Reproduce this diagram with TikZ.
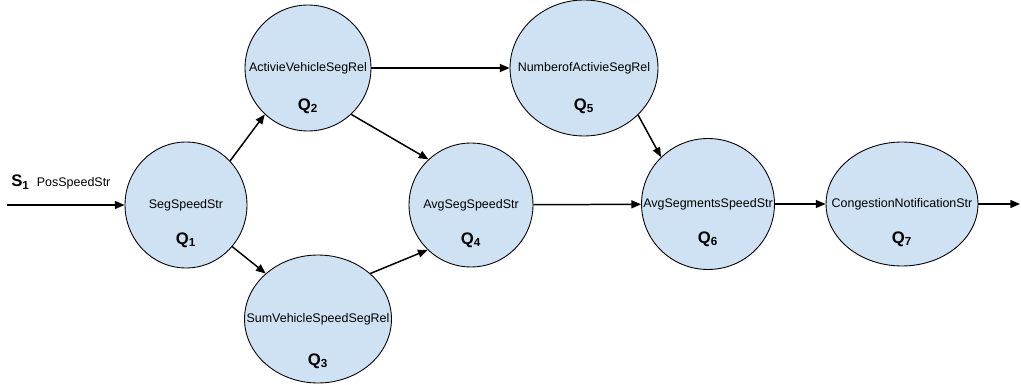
\documentclass[tikz,border=0pt]{standalone}
\usepackage{fontspec}
\setmainfont{Liberation Sans}
\usetikzlibrary{arrows.meta, positioning, shapes.geometric}
\definecolor{qfill}{HTML}{CFE2F3}
\newcommand{\qname}[1]{\makebox[0pt]{#1}}

\begin{document}
\begin{tikzpicture}[
    x=0.02cm, y=-0.02cm,
    query/.style={draw, ellipse, fill=qfill, line width=0.5pt, inner sep=0pt,
                  font=\fontsize{7.1}{8}\selectfont},
    qlab/.style={font=\fontsize{9.5}{11}\selectfont\bfseries, inner sep=0pt},
    flow/.style={-{Triangle[length=5.5pt,width=4.5pt]}, line width=0.85pt}
  ]
    \useasboundingbox (0,0) rectangle (1021,385);

    \node[query, minimum width=2.44cm, minimum height=2.52cm] (q1) at (186,205)
      {\qname{SegSpeedStr}};
    \node[query, minimum width=2.52cm, minimum height=2.52cm] (q2) at (308,68)
      {\qname{ActivieVehicleSegRel}};
    \node[query, minimum width=2.94cm, minimum height=2.56cm] (q3) at (318,319)
      {\qname{SumVehicleSpeedSegRel}};
    \node[query, minimum width=2.48cm, minimum height=2.48cm] (q4) at (471,205)
      {\qname{AvgSegSpeedStr}};
    \node[query, minimum width=2.96cm, minimum height=2.72cm] (q5) at (584,68)
      {\qname{NumberofActivieSegRel}};
    \node[query, minimum width=2.66cm, minimum height=2.62cm] (q6) at (708,204)
      {\qname{AvgSegmentsSpeedStr}};
    \node[query, minimum width=3.04cm, minimum height=2.48cm] (q7) at (902,204)
      {\qname{CongestionNotificationStr}};

    \node[qlab] (l1) at (186,240) {Q\textsubscript{1}};
    \node[qlab] (l2) at (308,106) {Q\textsubscript{2}};
    \node[qlab] (l3) at (318,361) {Q\textsubscript{3}};
    \node[qlab] (l4) at (471,240) {Q\textsubscript{4}};
    \node[qlab] (l5) at (584,106) {Q\textsubscript{5}};
    \node[qlab] (l6) at (708,239) {Q\textsubscript{6}};
    \node[qlab] (l7) at (902,239) {Q\textsubscript{7}};

    \node[qlab, anchor=west] (s1) at (11,182)
      {S\textsubscript{1}\hspace{4pt}{\mdseries\fontsize{7.1}{8}\selectfont PosSpeedStr}};
    \coordinate (src) at (7,205);
    \coordinate (sink) at (1020,204);

    \draw[flow] (src) -- (q1);
    \draw[flow] (q1.45) -- (q2.227);
    \draw[flow] (q1.-42) -- (q3.139);
    \draw[flow] (q2.-47) -- (q4.133);
    \draw[flow] (q3.41) -- (q4.226);
    \draw[flow] (q2) -- (q5);
    \draw[flow] (q5.-41) -- (q6.135);
    \draw[flow] (q4) -- (q6);
    \draw[flow] (q6) -- (q7);
    \draw[flow] (q7) -- (sink);
  \end{tikzpicture}
\end{document}
